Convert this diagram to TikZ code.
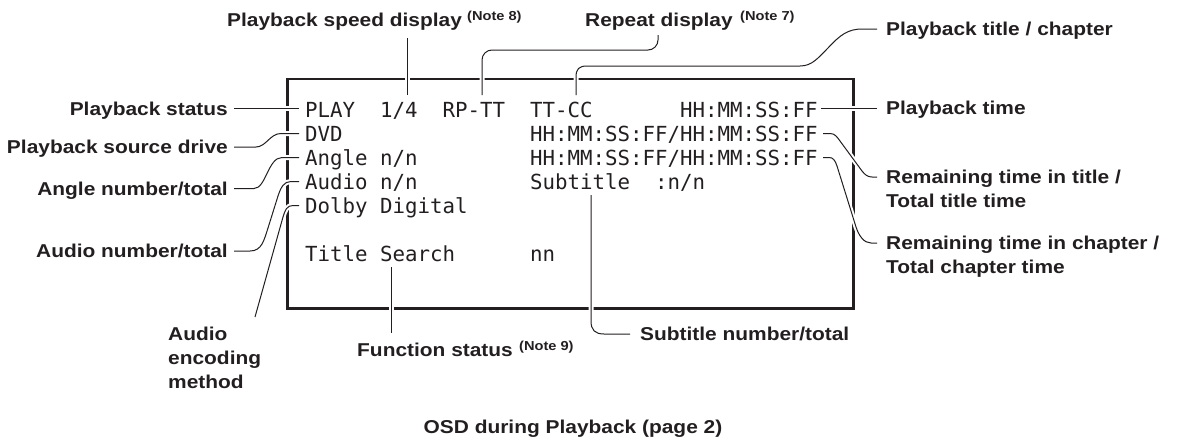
\documentclass[tikz,border=0pt]{standalone}
\usepackage{fontspec}
\setmainfont{Liberation Sans}
\newfontfamily\lblfont{Liberation Sans}[FakeStretch=1.124]
\newfontfamily\osdfont{DejaVu Sans Mono}
\definecolor{ink}{RGB}{35,31,32}
\begin{document}
\begin{tikzpicture}[x=1pt,y=-1pt,
  lbl/.style={font=\lblfont\bfseries\fontsize{18.6}{24}\selectfont, text=ink, inner sep=0pt},
  note/.style={font=\lblfont\bfseries\fontsize{13}{15}\selectfont, text=ink, inner sep=0pt, anchor=base west},
  osd/.style={font=\osdfont\fontsize{20.76}{24}\selectfont, text=ink, inner sep=0pt, anchor=base west},
  conn/.style={draw=ink, line width=1pt, preaction={draw=white, line width=5pt}},
  frame/.style={draw=ink, line width=2.5pt}]
\useasboundingbox (0,0) rectangle (1185,439);

% screen frame
\node[frame, anchor=north west, minimum width=566pt, minimum height=229.5pt, inner sep=0pt] (screen) at (286,77.5) {};

% OSD text
\node[osd] (play)    at (305,117) {PLAY};
\node[osd] (speed)   at (380,117) {1/4};
\node[osd] (rp)      at (442.5,117) {RP-TT};
\node[osd] (ttcc)    at (530,117) {TT-CC};
\node[osd] (ptime)   at (680,117) {HH:MM:SS:FF};
\node[osd] (dvd)     at (305,141) {DVD};
\node[osd] (ttime)   at (530,141) {HH:MM:SS:FF/HH:MM:SS:FF};
\node[osd] (angle)   at (305,165) {Angle n/n};
\node[osd] (ctime)   at (530,165) {HH:MM:SS:FF/HH:MM:SS:FF};
\node[osd] (audio)   at (305,189) {Audio n/n};
\node[osd] (subt)    at (530,189) {Subtitle};
\node[osd] (subn)    at (655,189) {:n/n};
\node[osd] (dolby)   at (305,213) {Dolby Digital};
\node[osd] (tsearch) at (305,261) {Title Search};
\node[osd] (nn)      at (530,261) {nn};

% labels
\node[lbl, anchor=base east] (lstatus) at (228,115) {Playback status};
\node[lbl, anchor=base east] (lsource) at (228,153) {Playback source drive};
\node[lbl, anchor=base east] (langle)  at (228,195) {Angle number/total};
\node[lbl, anchor=base east] (laudio)  at (228,257) {Audio number/total};
\node[lbl, anchor=base west] (lenc1) at (168,340) {Audio};
\node[lbl, anchor=base west] (lenc2) at (168,364) {encoding};
\node[lbl, anchor=base west] (lenc3) at (168,388) {method};
\node[lbl, anchor=base west] (lfunc) at (357,356) {Function status};
\node[note] (note9) at (519,350.5) {(Note 9)};
\node[lbl, anchor=base west] (lspeed) at (227,27) {Playback speed display};
\node[note] (note8) at (467,20.5) {(Note 8)};
\node[lbl, anchor=base west] (lrepeat) at (585,27) {Repeat display};
\node[note] (note7) at (740,20.5) {(Note 7)};
\node[lbl, anchor=base west] (ltitle) at (886,35.5) {Playback title / chapter};
\node[lbl, anchor=base west] (lptime) at (886,114.5) {Playback time};
\node[lbl, anchor=base west] (lrem1)  at (886,183.5) {Remaining time in title /};
\node[lbl, anchor=base west] (lrem1b) at (886,207.5) {Total title time};
\node[lbl, anchor=base west] (lrem2)  at (886,249.5) {Remaining time in chapter /};
\node[lbl, anchor=base west] (lrem2b) at (886,273.5) {Total chapter time};
\node[lbl, anchor=base west] (lsub)   at (640,340.5) {Subtitle number/total};
\node[lbl, anchor=base] (caption) at (573,433) {OSD during Playback (page 2)};

% connectors
\coordinate (encend) at (255,317);
\draw[conn] (234,108.5) -- (299,108.5);
\draw[conn] (234,147) -- (256,147) .. controls (266,147) and (270,133.5) .. (281,133.5) -- (299,133.5);
\draw[conn] (234,188.5) -- (254,188.5) .. controls (266,188.5) and (268,157.5) .. (282,157.5) -- (299,157.5);
\draw[conn] (234,251) -- (250,251) .. controls (262,251) and (264,240) .. (268,228) -- (278,196) .. controls (281,187) and (284,181.5) .. (291,181.5) -- (299,181.5);
\draw[conn] (299,205.5) -- (293,205.5) .. controls (287,205.5) and (285,210) .. (283,217) -- (encend);
\draw[conn] (407,38) -- (407,95);
\draw[conn, rounded corners=10pt] (658,35) -- (658,50) -- (482,50) -- (482,95);
\draw[conn] (576,95) -- (576,77) .. controls (576,69) and (579,66) .. (587,66) -- (800,66) .. controls (812,66) and (818,58) .. (828,48) .. controls (840,35) and (848,29) .. (862,29) -- (877,29);
\draw[conn] (821,108.5) -- (877,108.5);
\draw[conn] (823,133.5) -- (830,133.5) .. controls (835,133.5) and (837,137) .. (840,141) -- (862,171) .. controls (865,175) and (868,177) .. (872,177) -- (877,177);
\draw[conn] (823,157.5) -- (829,157.5) .. controls (833,157.5) and (835,160) .. (837,166) -- (856,227) .. controls (859,236) and (864,243) .. (871,243) -- (877,243);
\draw[conn] (591,195) -- (591,321) .. controls (591,330) and (595,334) .. (604,334) -- (630,334);
\draw[conn] (391,267) -- (391,333);
\end{tikzpicture}
\end{document}
